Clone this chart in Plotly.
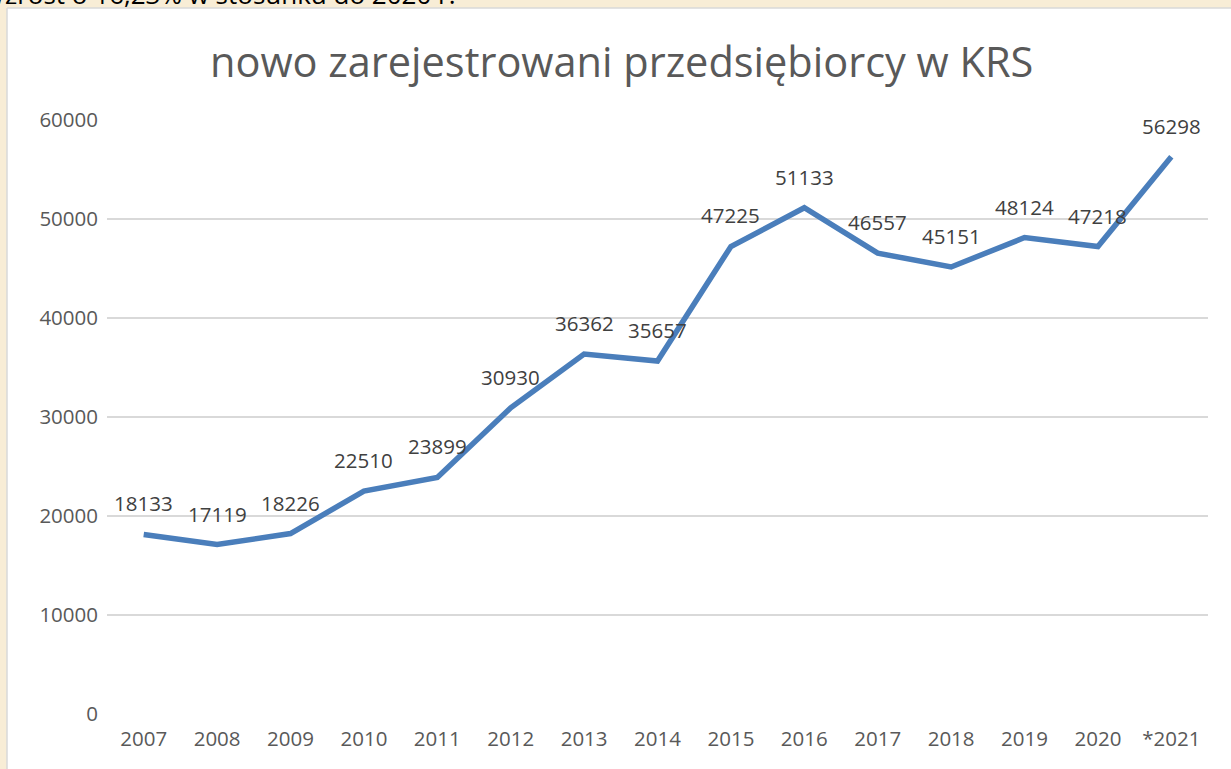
import plotly.graph_objects as go

years = ["2007", "2008", "2009", "2010", "2011", "2012", "2013", "2014",
         "2015", "2016", "2017", "2018", "2019", "2020", "*2021"]
values = [18133, 17119, 18226, 22510, 23899, 30930, 36362, 35657,
          47225, 51133, 46557, 45151, 48124, 47218, 56298]
y_ticks = [0, 10000, 20000, 30000, 40000, 50000, 60000]

GREY = "#595959"
FONT = "Open Sans"
PH = 594  # plot height in px
PW = 1101

fig = go.Figure()
fig.add_trace(go.Scatter(
    x=list(range(len(years))), y=values, mode="lines",
    line=dict(color="#4A7EBB", width=5.5), hoverinfo="skip", showlegend=False,
))

for i, v in enumerate(values):
    fig.add_annotation(x=i, y=v, text=str(v), showarrow=False,
                       yshift=31, font=dict(family=FONT, size=20.5, color="#404040"))

# beige page strips and caption cut at top
fig.add_shape(type="rect", xref="paper", yref="paper", x0=-107/PW, x1=-100/PW,
              y0=-55/PH, y1=(PH+120)/PH, fillcolor="#F8EDD6", line_width=0, layer="below")
fig.add_shape(type="rect", xref="paper", yref="paper", x0=-107/PW, x1=1.1,
              y0=(PH+112)/PH, y1=(PH+120)/PH, fillcolor="#F8EDD6", line_width=0, layer="below")
fig.add_shape(type="line", xref="paper", yref="paper", x0=-100/PW, x1=-100/PW,
              y0=-55/PH, y1=(PH+112)/PH, line=dict(color="#D9D9D9", width=1.5))
fig.add_shape(type="line", xref="paper", yref="paper", x0=-100/PW, x1=1.1,
              y0=(PH+112)/PH, y1=(PH+112)/PH, line=dict(color="#D9D9D9", width=1.5))
fig.add_annotation(xref="paper", yref="paper", x=-128/PW, y=(PH+120+26)/PH,
                   xanchor="left", yanchor="top", showarrow=False,
                   text="Wzrost o 16,23% w stosunku do 2020 r.",
                   font=dict(family=FONT, size=26, color="#000000"))

fig.update_layout(
    width=1231, height=769,
    margin=dict(l=107, r=23, t=120, b=55),
    paper_bgcolor="white", plot_bgcolor="white",
    title=dict(text="nowo zarejestrowani przedsiębiorcy w KRS", x=0.505, xanchor="center",
               y=1 - 62/769, yanchor="middle",
               font=dict(family=FONT, size=41.5, color=GREY)),
    xaxis=dict(tickmode="array", tickvals=list(range(len(years))), ticktext=years,
               range=[-0.5, len(years) - 0.5], showgrid=False, zeroline=False,
               showline=False, ticks="", tickfont=dict(family=FONT, size=20.5, color=GREY),
               ticklabelstandoff=10),
    yaxis=dict(range=[0, 60000], tickvals=y_ticks, ticktext=[str(t) for t in y_ticks],
               showgrid=True, gridcolor="#D9D9D9", gridwidth=1.5, zeroline=False,
               showline=False, ticks="", tickfont=dict(family=FONT, size=20.5, color=GREY),
               ticklabelstandoff=8),
)

fig.write_html("out.html", config={"displayModeBar": False},
               post_script="document.body.style.margin='0';")
